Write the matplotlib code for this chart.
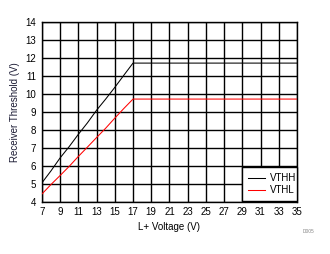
import matplotlib
matplotlib.use("Agg")
import matplotlib.pyplot as plt

plt.rcParams['font.family'] = ['Liberation Sans', 'DejaVu Sans']

# readings from the reference chart
l_plus = [7, 8, 9, 10, 11, 12, 13, 14, 15, 16, 17, 35]
vthh = [5.06, 5.73, 6.45, 7.08, 7.76, 8.40, 9.10, 9.72, 10.37, 11.05, 11.72, 11.72]
vthl = [4.44, 4.97, 5.47, 5.98, 6.53, 7.05, 7.58, 8.10, 8.66, 9.20, 9.72, 9.72]

x_ticks = list(range(7, 36, 2))
y_ticks = list(range(4, 15))

fig = plt.figure(figsize=(3.3, 2.54), dpi=100)
ax = fig.add_axes([0.127, 0.205, 0.773, 0.708])

ax.plot(l_plus, vthh, color='black', lw=0.75, label='VTHH', zorder=3)
ax.plot(l_plus, vthl, color='#ff0000', lw=0.75, label='VTHL', zorder=3)

ax.set_xlim(7, 35)
ax.set_ylim(4, 14)
ax.set_xticks(x_ticks)
ax.set_yticks(y_ticks)
ax.grid(True, color='black', lw=1.0)
ax.tick_params(length=0, labelsize=7, pad=4)
for s in ax.spines.values():
    s.set_linewidth(1.0)

ax.set_xlabel("L+ Voltage (V)", fontsize=7, labelpad=3)
ax.set_ylabel("Receiver Threshold (V)", fontsize=7, labelpad=4, color='#1a1a33')

leg = ax.legend(loc='center', bbox_to_anchor=(29, 4, 6, 2),
                bbox_transform=ax.transData, mode='expand',
                fontsize=7, frameon=True, fancybox=False,
                handlelength=1.75, handletextpad=0.5, borderpad=0.6,
                labelspacing=0.2, borderaxespad=0)
leg.get_frame().set_edgecolor('black')
leg.get_frame().set_linewidth(1.0)
leg.get_frame().set_alpha(1)

fig.text(0.918, 0.083, "D005", fontsize=3.5, color='#888888', ha='left')

fig.savefig("out.png", dpi=100)
